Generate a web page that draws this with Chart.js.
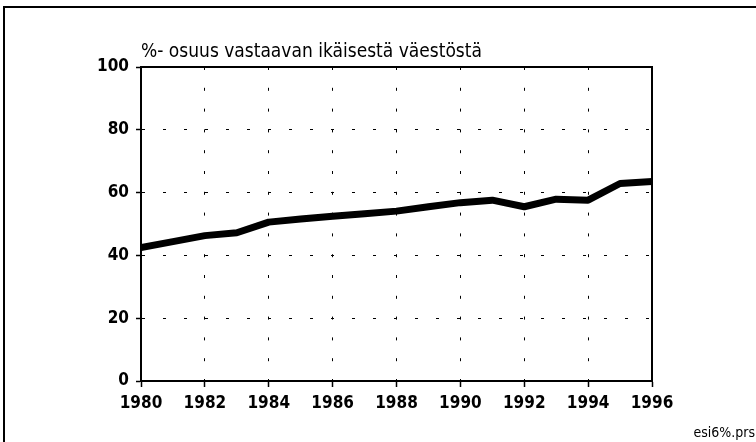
<!DOCTYPE html>
<html>
<head>
<meta charset="utf-8">
<script src="https://cdn.jsdelivr.net/npm/chart.js@4/dist/chart.umd.min.js"></script>
<style>
  html, body { margin: 0; padding: 0; background: #fff; }
  #wrap { width: 756px; height: 442px; position: relative; }
</style>
</head>
<body>
<div id="wrap"><canvas id="c" width="756" height="442"></canvas></div>
<script>
const titleText = "%- osuus vastaavan ikäisestä väestöstä";
const footnoteText = "esi6%.prs";
const years = [1980, 1981, 1982, 1983, 1984, 1985, 1986, 1987, 1988, 1989, 1990, 1991, 1992, 1993, 1994, 1995, 1996];
const shares = [42.5, 44.4, 46.3, 47.2, 50.6, 51.6, 52.5, 53.3, 54.1, 55.5, 56.8, 57.6, 55.5, 57.9, 57.6, 62.9, 63.5];
const yTicks = [0, 20, 40, 60, 80, 100];
const xTicks = [1980, 1982, 1984, 1986, 1988, 1990, 1992, 1994, 1996];

const FAM = "'Liberation Sans Narrow', 'DejaVu Sans Condensed', 'Roboto Condensed', 'Liberation Sans', sans-serif";

const framePlugin = {
  id: 'frame',
  beforeDraw(chart) {
    const ctx = chart.ctx;
    ctx.save();
    ctx.strokeStyle = '#000';
    ctx.lineWidth = 2;
    ctx.beginPath();
    ctx.moveTo(4, 442);
    ctx.lineTo(4, 7);
    ctx.lineTo(756, 7);
    ctx.stroke();
    ctx.restore();
  },
  afterDraw(chart) {
    const ctx = chart.ctx;
    const a = chart.chartArea;
    ctx.save();
    ctx.strokeStyle = '#000';
    ctx.lineWidth = 2;
    ctx.strokeRect(a.left, a.top, a.right - a.left, a.bottom - a.top);
    ctx.fillStyle = '#000';
    ctx.textBaseline = 'alphabetic';
    ctx.textAlign = 'left';
    ctx.font = "19px " + FAM;
    ctx.fillText(titleText, a.left, 57);
    ctx.textAlign = 'right';
    ctx.font = "14px " + FAM;
    ctx.fillText(footnoteText, 755, 437);
    ctx.restore();
  }
};

new Chart(document.getElementById('c'), {
  type: 'line',
  data: {
    datasets: [{
      data: years.map((y, i) => ({ x: y, y: shares[i] })),
      borderColor: '#000',
      borderWidth: 7,
      pointRadius: 0,
      tension: 0,
      fill: false,
      borderJoinStyle: 'round',
      borderCapStyle: 'butt'
    }]
  },
  options: {
    responsive: false,
    animation: false,
    devicePixelRatio: 1,
    layout: { padding: { top: 67, right: 104, bottom: 0, left: 0 } },
    plugins: { legend: { display: false }, tooltip: { enabled: false }, title: { display: false } },
    scales: {
      x: {
        type: 'linear',
        min: 1980, max: 1996,
        afterBuildTicks(scale) { scale.ticks = xTicks.map(v => ({ value: v })); },
        afterFit(scale) { scale.height = 61; },
        grid: { color: '#000', lineWidth: 1, tickLength: 6, tickColor: '#000', tickWidth: 1.5 },
        border: { display: true, color: '#000', width: 2, dash: [3, 17.8] },
        ticks: {
          color: '#000', padding: 6, maxRotation: 0, autoSkip: false,
          font: { family: FAM, size: 17, weight: 'bold' },
          callback: v => String(v)
        }
      },
      y: {
        min: 0, max: 100,
        afterBuildTicks(scale) { scale.ticks = yTicks.map(v => ({ value: v })); },
        afterFit(scale) { scale.width = 141; },
        grid: { color: '#000', lineWidth: 1, tickLength: 5, tickColor: '#000', tickWidth: 1.5 },
        border: { display: true, color: '#000', width: 2, dash: [3, 18] },
        ticks: {
          color: '#000', padding: 7,
          font: { family: FAM, size: 17, weight: 'bold' }
        }
      }
    }
  },
  plugins: [framePlugin]
});
</script>
</body>
</html>
